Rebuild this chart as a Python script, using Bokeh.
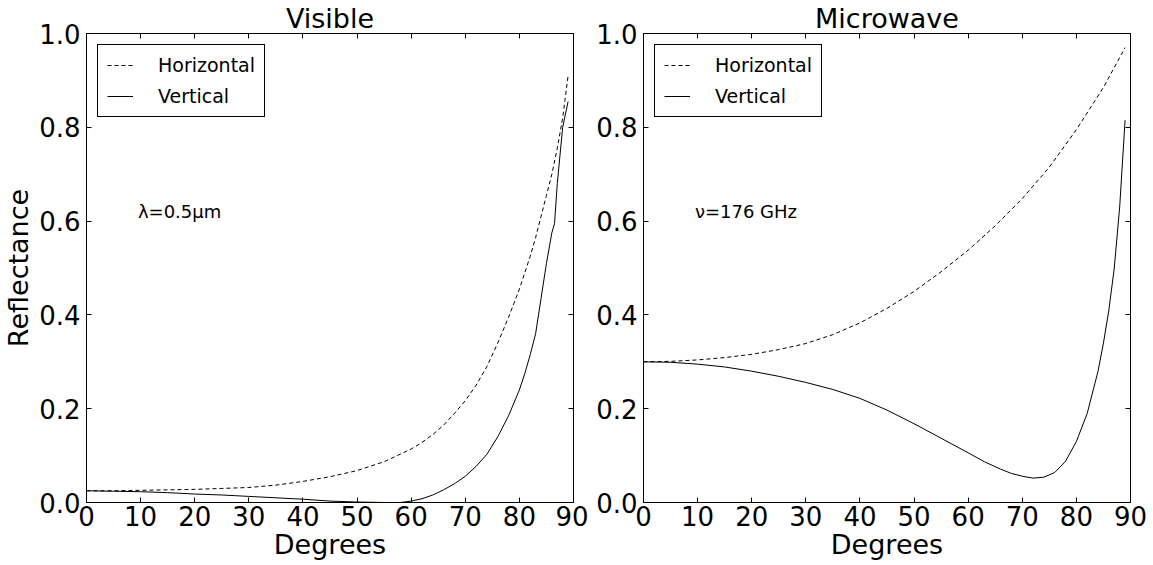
from bokeh.plotting import figure
from bokeh.layouts import row
from bokeh.models import (Range1d, FixedTicker, LinearAxis, Legend, LegendItem,
                          Label, PrintfTickFormatter, CustomJSTickFormatter)
from bokeh.embed import file_html
from bokeh.resources import INLINE

FONT = "DejaVu Sans"

# ---------------- data ----------------
vis_deg = [0, 5, 10, 15, 20, 25, 30, 35, 40, 45, 50, 55, 60, 62, 64, 66, 68, 70,
           72, 74, 76, 78, 80, 81, 82, 83, 84, 85, 86, 87, 88, 89]
vis_h = [0.025, 0.025, 0.026, 0.027, 0.028, 0.030, 0.032, 0.037, 0.045, 0.055,
         0.068, 0.087, 0.114, 0.128, 0.145, 0.165, 0.190, 0.217, 0.250, 0.290,
         0.340, 0.395, 0.455, 0.490, 0.525, 0.565, 0.610, 0.655, 0.700, 0.755,
         0.820, 0.910]

vis_v_deg = [0, 5, 10, 15, 20, 25, 30, 35, 40, 45, 50, 55, 58, 60, 62, 64, 66, 68,
             70, 72, 74, 76, 78, 80, 81, 82, 83, 84, 85, 86, 86.5, 87, 88, 89]
vis_v = [0.025, 0.024, 0.023, 0.021, 0.018, 0.016, 0.013, 0.010, 0.007, 0.003,
         0.001, 0.000, 0.000, 0.003, 0.008, 0.016, 0.027, 0.040, 0.056, 0.077,
         0.103, 0.140, 0.185, 0.240, 0.275, 0.315, 0.360, 0.435, 0.510, 0.575,
         0.595, 0.680, 0.800, 0.855]

mw_h_deg = [0, 5, 10, 15, 20, 25, 30, 35, 40, 45, 50, 55, 60, 65, 70, 75, 80, 85, 89]
mw_h = [0.300, 0.301, 0.304, 0.309, 0.316, 0.326, 0.339, 0.358, 0.383, 0.414,
        0.450, 0.492, 0.538, 0.590, 0.648, 0.715, 0.795, 0.885, 0.970]

mw_v_deg = [0, 5, 10, 15, 20, 25, 30, 35, 40, 45, 50, 55, 60, 63, 66, 68, 70, 72,
            74, 76, 78, 80, 82, 84, 85, 86, 87, 88, 89]
mw_v = [0.300, 0.299, 0.295, 0.289, 0.280, 0.269, 0.256, 0.241, 0.222, 0.197,
        0.168, 0.137, 0.106, 0.087, 0.071, 0.062, 0.056, 0.052, 0.054, 0.064,
        0.088, 0.130, 0.190, 0.280, 0.340, 0.410, 0.500, 0.630, 0.815]

x_ticks = [0, 10, 20, 30, 40, 50, 60, 70, 80, 90]
y_ticks = [0.0, 0.2, 0.4, 0.6, 0.8, 1.0]
series_labels = ["Horizontal", "Vertical"]
titles = ["Visible", "Microwave"]
notes = ["λ=0.5μm", "ν=176 GHz"]


def style_axis(ax, ticks, show_labels=True):
    ax.ticker = FixedTicker(ticks=ticks)
    ax.major_tick_in = 5
    ax.major_tick_out = 0
    ax.minor_tick_line_color = None
    ax.axis_line_color = "black"
    ax.major_tick_line_color = "black"
    ax.major_label_text_font = FONT
    ax.major_label_text_color = "black"
    ax.axis_label_text_font = FONT
    ax.axis_label_text_font_style = "normal"
    ax.axis_label_text_font_size = "27px"
    ax.axis_label_text_color = "black"
    ax.major_label_text_font_size = "26px"
    if not show_labels:
        ax.formatter = CustomJSTickFormatter(code="return '';")
        ax.major_label_standoff = 0


def make_panel(title, h_x, h_y, v_x, v_y, note, left, first):
    p = figure(frame_width=487, frame_height=469,
               x_range=Range1d(0, 90), y_range=Range1d(0, 1),
               output_backend="svg", toolbar_location=None,
               min_border_left=left, min_border_right=15 if first else 27,
               min_border_top=2, min_border_bottom=2,
               background_fill_color="white", border_fill_color="white")
    p.title.text = title
    p.title.text_font = FONT
    p.title.text_font_size = "27px"
    p.title.text_font_style = "normal"
    p.title.text_color = "black"
    p.title.align = "center"
    p.title.standoff = 0
    p.grid.visible = False
    p.outline_line_color = "black"
    p.outline_line_width = 1

    xa = p.xaxis[0]
    ya = p.yaxis[0]
    style_axis(xa, x_ticks)
    style_axis(ya, y_ticks)
    xa.major_label_standoff = 3
    ya.major_label_standoff = 6
    xa.axis_label = "Degrees"
    xa.axis_label_standoff = 0
    ya.formatter = PrintfTickFormatter(format="%.1f")
    if first:
        ya.axis_label = "Reflectance"
        ya.axis_label_standoff = 2

    top = LinearAxis()
    style_axis(top, x_ticks, False)
    p.add_layout(top, "above")
    right = LinearAxis()
    style_axis(right, y_ticks, False)
    p.add_layout(right, "right")

    rh = p.line(h_x, h_y, line_color="black", line_width=1, line_dash="4 3")
    rv = p.line(v_x, v_y, line_color="black", line_width=1)

    leg = Legend(items=[LegendItem(label=series_labels[0], renderers=[rh]),
                        LegendItem(label=series_labels[1], renderers=[rv])],
                 location="top_left", margin=11,
                 label_text_font=FONT, label_text_font_size="19px",
                 label_text_color="black",
                 glyph_width=26, glyph_height=20, label_standoff=25,
                 label_height=22, spacing=9, padding=9,
                 border_line_color="black", border_line_width=1,
                 border_line_alpha=1.0,
                 background_fill_color="white", background_fill_alpha=1)
    p.add_layout(leg)

    p.add_layout(Label(x=9.5, y=0.62, text=note, text_font=FONT,
                       text_font_size="18px", text_color="black",
                       text_baseline="middle", text_align="left"))
    return p


p1 = make_panel(titles[0], vis_deg, vis_h, vis_v_deg, vis_v, notes[0], 81, True)
p2 = make_panel(titles[1], mw_h_deg, mw_h, mw_v_deg, mw_v, notes[1], 55, False)

layout = row(p1, p2, spacing=0)
p = layout
open("out.html", "w").write(file_html(p, INLINE))
